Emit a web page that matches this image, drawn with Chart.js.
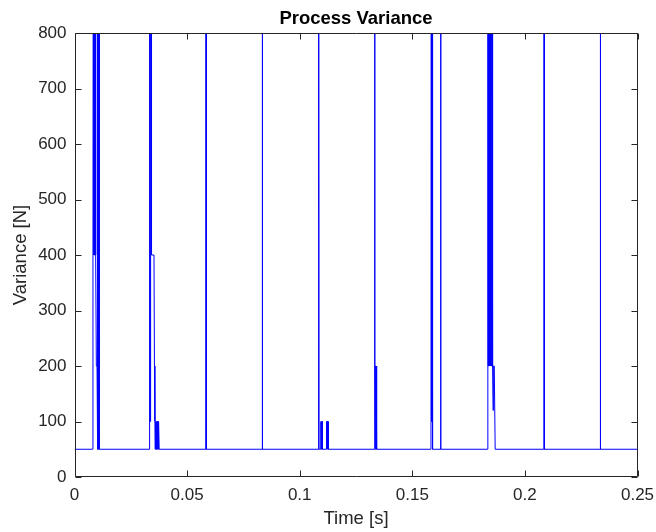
<!DOCTYPE html>
<html>
<head>
<meta charset="utf-8">
<script src="https://cdn.jsdelivr.net/npm/chart.js@4"></script>
<style>
  html, body { margin: 0; padding: 0; background: #ffffff; }
  #wrap { width: 656px; height: 532px; }
</style>
</head>
<body>
<div id="wrap"><canvas id="c" width="656" height="532"></canvas></div>
<script>
// ---- data ----
const timeS = [
  0, 0.0080, 0.0082, 0.0084, 0.0085, 0.0086, 0.0087, 0.0088, 0.0089, 0.0090, 0.0091, 0.0092, 0.0093, 0.0094, 0.0095, 0.0097, 0.0100,
  0.0101, 0.0102, 0.0103, 0.0104, 0.0105, 0.0106, 0.0107, 0.0108, 0.0109, 0.0110,
  0.0331, 0.0332, 0.0333, 0.0334, 0.0335, 0.0336, 0.0337, 0.0338, 0.0339, 0.0341, 0.0342, 0.0353, 0.0355, 0.0357,
  0.0358, 0.0359, 0.0360, 0.0361, 0.0362, 0.0363, 0.0364, 0.0366, 0.0367, 0.0368, 0.0369, 0.0370, 0.0371, 0.0372, 0.0373, 0.0375, 0.0376,
  0.0583, 0.0584, 0.0585, 0.0586,
  0.0833, 0.0834, 0.0835,
  0.1082, 0.1083, 0.1085, 0.1086,
  0.1093, 0.1094, 0.1095, 0.1096, 0.1097, 0.1098, 0.1100, 0.1101,
  0.1117, 0.1118, 0.1119, 0.1120, 0.1122, 0.1123, 0.1124, 0.1126, 0.1127,
  0.1332, 0.1333, 0.1334, 0.1335, 0.1336, 0.1337, 0.1338, 0.1339, 0.1340, 0.1342, 0.1343,
  0.1582, 0.1583, 0.1584, 0.1585, 0.1586, 0.1587, 0.1588, 0.1589, 0.1590, 0.1591,
  0.1625, 0.1626, 0.1627,
  0.1834, 0.1835, 0.1836, 0.1837, 0.1838, 0.1839, 0.1840, 0.1841, 0.1842, 0.1843, 0.1844, 0.1845, 0.1846, 0.1847,
  0.1848, 0.1849, 0.1850, 0.1851, 0.1852, 0.1853, 0.1854, 0.1855, 0.1856, 0.1857, 0.1858, 0.1859, 0.1860, 0.1864, 0.1868,
  0.2083, 0.2084, 0.2086, 0.2087,
  0.2334, 0.2335, 0.2336,
  0.25
];
const varianceN = [
  50, 50, 400, 1600, 400, 1600, 400, 1600, 400, 1600, 400, 1600, 400, 1600, 400, 200, 200,
  1600, 50, 1600, 50, 1600, 50, 1600, 50, 1600, 50,
  50, 100, 1600, 100, 1600, 100, 1600, 100, 1600, 1600, 400, 400, 200, 100,
  50, 100, 50, 100, 50, 100, 50, 50, 100, 50, 100, 50, 100, 50, 100, 100, 50,
  50, 1600, 1600, 50,
  50, 1600, 50,
  50, 1600, 1600, 50,
  50, 100, 50, 100, 50, 100, 100, 50,
  50, 100, 50, 100, 100, 50, 100, 100, 50,
  50, 1600, 200, 50, 200, 50, 200, 200, 100, 100, 50,
  50, 100, 1600, 100, 1600, 100, 1600, 100, 1600, 50,
  50, 1600, 50,
  50, 200, 1600, 200, 1600, 1600, 200, 1600, 200, 1600, 1600, 200, 1600, 200,
  1600, 1600, 200, 1600, 200, 1600, 1600, 200, 1600, 1600, 200, 120, 200, 200, 50,
  50, 1600, 1600, 50,
  50, 1600, 50,
  50
];
const xTickValues = [0, 0.05, 0.1, 0.15, 0.2, 0.25];
const xTickLabels = ['0', '0.05', '0.1', '0.15', '0.2', '0.25'];
const yTickValues = [0, 100, 200, 300, 400, 500, 600, 700, 800];
const yTickLabels = ['0', '100', '200', '300', '400', '500', '600', '700', '800'];
const chartTitle = 'Process Variance';
const xTitle = 'Time [s]';
const yTitle = 'Variance [N]';

// ---- styling ----
const FONT = '"Liberation Sans", Arial, Helvetica, sans-serif';
const AXIS = '#262626';

const boxTicks = {
  id: 'boxTicks',
  afterDatasetsDraw(chart) {
    const {ctx, chartArea: a, scales: {x, y}} = chart;
    const L = 6;
    ctx.save();
    ctx.strokeStyle = AXIS;
    ctx.lineWidth = 1;
    ctx.beginPath();
    const l = Math.round(a.left) + 0.5, r = Math.round(a.right) - 0.5;
    const t = Math.round(a.top) + 0.5, b = Math.round(a.bottom) - 0.5;
    ctx.rect(l, t, r - l, b - t);
    x.ticks.forEach(tk => {
      const px = Math.round(x.getPixelForValue(tk.value)) + 0.5;
      ctx.moveTo(px, b); ctx.lineTo(px, b - L);
      ctx.moveTo(px, t); ctx.lineTo(px, t + L);
    });
    y.ticks.forEach(tk => {
      const py = Math.round(y.getPixelForValue(tk.value)) + 0.5;
      ctx.moveTo(l, py); ctx.lineTo(l + L, py);
      ctx.moveTo(r, py); ctx.lineTo(r - L, py);
    });
    ctx.stroke();
    ctx.restore();
  }
};

new Chart(document.getElementById('c'), {
  type: 'line',
  data: {
    datasets: [{
      data: timeS.map((t, i) => ({x: t, y: varianceN[i]})),
      borderColor: '#0000ff',
      borderWidth: 1,
      pointRadius: 0,
      fill: false,
      tension: 0,
      clip: 0
    }]
  },
  options: {
    responsive: false,
    devicePixelRatio: 1,
    animation: false,
    layout: { padding: { left: 0, right: 18.5, top: 0, bottom: 0 } },
    plugins: {
      legend: { display: false },
      tooltip: { enabled: false },
      title: {
        display: true,
        text: chartTitle,
        fullSize: false,
        color: '#000000',
        font: { family: FONT, size: 18.5, weight: 'bold' },
        padding: { top: 7.5, bottom: 3.3 }
      }
    },
    scales: {
      x: {
        type: 'linear',
        min: 0, max: 0.25,
        afterBuildTicks: s => { s.ticks = xTickValues.map(v => ({value: v})); },
        afterFit: s => { s.height = 55; s.paddingLeft = 0; s.paddingRight = 0; },
        grid: { display: false, drawTicks: false },
        border: { display: false },
        ticks: {
          autoSkip: false, maxRotation: 0, padding: 8, color: AXIS,
          font: { family: FONT, size: 17 },
          callback: (v, i) => xTickLabels[i]
        },
        title: {
          display: true, text: xTitle, color: AXIS,
          font: { family: FONT, size: 18.5 },
          padding: { top: 0, bottom: 2 }
        }
      },
      y: {
        type: 'linear',
        min: 0, max: 800,
        afterBuildTicks: s => { s.ticks = yTickValues.map(v => ({value: v})); },
        afterFit: s => { s.width = 74.5; s.paddingTop = 0; s.paddingBottom = 0; },
        grid: { display: false, drawTicks: false },
        border: { display: false },
        ticks: {
          autoSkip: false, padding: 8, color: AXIS,
          font: { family: FONT, size: 17 },
          callback: (v, i) => yTickLabels[i]
        },
        title: {
          display: true, text: yTitle, color: AXIS,
          font: { family: FONT, size: 18.5 },
          padding: { top: 10, bottom: 0 }
        }
      }
    }
  },
  plugins: [boxTicks]
});
</script>
</body>
</html>
